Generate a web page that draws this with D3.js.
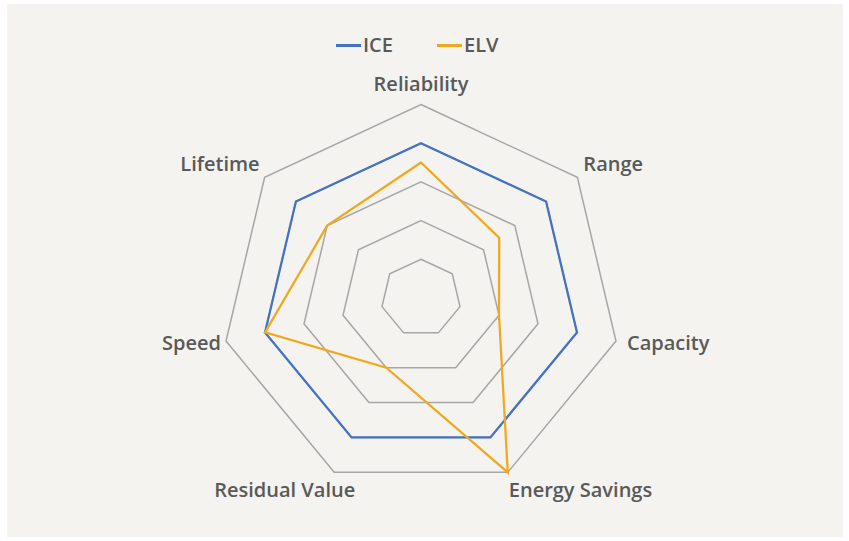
<!DOCTYPE html>
<html>
<head>
<meta charset="utf-8">
<script src="https://cdn.jsdelivr.net/npm/d3@7"></script>
<style>
  body { margin: 0; background: #ffffff; }
  svg text { font-family: "Open Sans", sans-serif; font-weight: 600; fill: #595959; }
</style>
</head>
<body>
<div id="radar"></div>
<script>
// axes, clockwise from the top
const axes = ["Reliability", "Range", "Capacity", "Energy Savings", "Residual Value", "Speed", "Lifetime"];
const seriesNames = ["ICE", "ELV"];
const iceValues = [4, 4, 4, 4, 4, 4, 4];
const elvValues = [3.5, 2.5, 2, 5, 2, 4, 3];
const levels = [1, 2, 3, 4, 5];

const colors = { ICE: "#4472C4", ELV: "#EEA921" };

const width = 849, height = 541;
const cx = 421, cy = 298;
const rx = 200, ry = 193.5;   // plot is a little wider than tall

const svg = d3.select("#radar")
    .append("svg")
    .attr("width", width)
    .attr("height", height);

// panel
svg.append("rect")
    .attr("x", 7).attr("y", 4)
    .attr("width", 836).attr("height", 533)
    .attr("fill", "#f4f3ef");

const r = d3.scaleLinear().domain([0, 5]).range([0, 1]);
const angle = d3.scaleLinear().domain([0, axes.length]).range([0, 2 * Math.PI]);

function pt(i, v) {
    const a = angle(i);
    return [cx + Math.sin(a) * r(v) * rx, cy - Math.cos(a) * r(v) * ry];
}

const line = d3.line().curve(d3.curveLinearClosed);

// grid rings
svg.append("g")
    .selectAll("path")
    .data(levels)
    .join("path")
    .attr("d", lv => line(axes.map((a, i) => pt(i, lv))))
    .attr("fill", "none")
    .attr("stroke", "#a6a6a6")
    .attr("stroke-width", 1.5);

// series
const series = [
    { name: "ICE", values: iceValues },
    { name: "ELV", values: elvValues }
];
svg.append("g")
    .selectAll("path")
    .data(series)
    .join("path")
    .attr("d", s => line(s.values.map((v, i) => pt(i, v))))
    .attr("fill", "none")
    .attr("stroke", s => colors[s.name])
    .attr("stroke-width", 2.25)
    .attr("stroke-linejoin", "miter");

// axis labels
const labelG = svg.append("g").style("font-size", "20px");
axes.forEach((name, i) => {
    const a = angle(i);
    const s = Math.sin(a), c = Math.cos(a);
    let [x, y] = pt(i, 5);
    let anchor = "middle";
    if (Math.abs(s) < 0.01) {
        y -= 14;
    } else if (c < -0.5) {
        // bottom pair
        anchor = s > 0 ? "start" : "end";
        x += s > 0 ? 1 : 21;
        y += 25;
    } else {
        anchor = s > 0 ? "start" : "end";
        x += s > 0 ? (c > 0.5 ? 6 : 11) : -5;
        y += c > 0.5 ? -6 : 9;
    }
    labelG.append("text")
        .attr("x", x)
        .attr("y", y)
        .attr("text-anchor", anchor)
        .text(name);
});

// legend
const legend = svg.append("g").style("font-size", "20px");
const lx = d3.scaleOrdinal().domain(seriesNames).range([336, 437]);
seriesNames.forEach(n => {
    legend.append("line")
        .attr("x1", lx(n)).attr("x2", lx(n) + 25)
        .attr("y1", 45.5).attr("y2", 45.5)
        .attr("stroke", colors[n])
        .attr("stroke-width", 3);
    legend.append("text")
        .attr("x", lx(n) + 27)
        .attr("y", 52)
        .text(n);
});
</script>
</body>
</html>
